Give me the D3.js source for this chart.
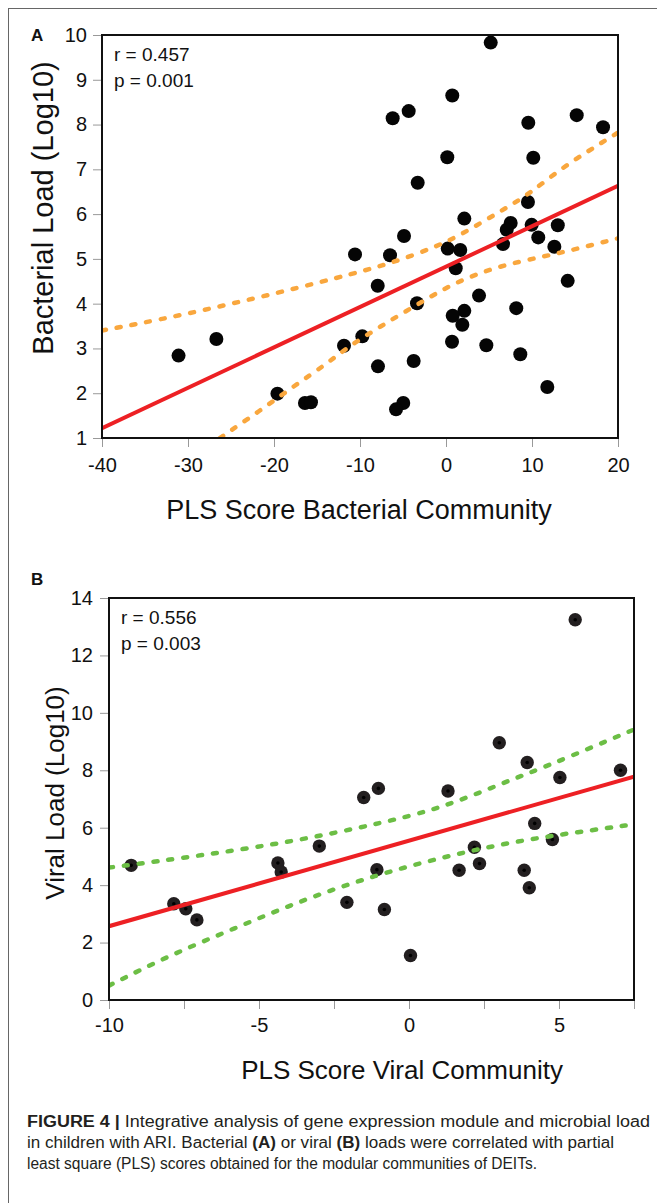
<!DOCTYPE html>
<html>
<head>
<meta charset="utf-8">
<script src="https://cdn.jsdelivr.net/npm/d3@7"></script>
<style>
  body { margin: 0; background: #fff; }
  svg text { font-family: Arial, "Liberation Sans", Helvetica, sans-serif; fill: #111; }
  .tick line { stroke: #999; stroke-width: 1px; }
  .tick text { font-size: 20px; fill: #111; }
</style>
</head>
<body>
<div id="fig"></div>
<script>
// ---- panel A : bacterial ----
var bactX = [5.2, 0.73, -6.2, -4.34, 9.57, 15.2, 18.26, 0.15, 10.15, -3.29, 9.53, 2.13, 7.52, 7.06, 9.96,
             13.0, -4.88, 10.73, 6.63, 0.2, 1.66, 12.6, -10.58, -6.51, 1.13, 14.15, -7.94, 3.84, -3.37, 8.17,
             2.13, 0.78, 1.9, -9.73, -11.86, 0.7, 4.69, 8.64, -7.91, -3.76, 11.78, -16.4, -15.7, -4.97, -5.81,
             -19.6, -31.1, -26.7];
var bactY = [9.83, 8.65, 8.14, 8.30, 8.04, 8.21, 7.94, 7.27, 7.26, 6.70, 6.27, 5.90, 5.80, 5.65, 5.76,
             5.75, 5.51, 5.48, 5.33, 5.23, 5.20, 5.27, 5.10, 5.08, 4.79, 4.51, 4.40, 4.18, 4.01, 3.90,
             3.84, 3.73, 3.53, 3.27, 3.06, 3.15, 3.07, 2.87, 2.60, 2.72, 2.14, 1.78, 1.80, 1.78, 1.64,
             1.99, 2.84, 3.21];
var bactFitX = [-40, 20];
var bactFitY = [1.22, 6.63];
var bactUpX = [-40, -30.9, -19.3, -10.2, -6.5, -1.08, 2.4, 6.28, 9.57, 13.6, 20];
var bactUpY = [3.40, 3.73, 4.25, 4.70, 4.90, 5.27, 5.61, 6.06, 6.43, 7.06, 7.82];
var bactLoX = [-26.3, -22.0, -17.75, -14.07, -11.55, -7.67, -3.41, 0.85, 5.9, 11.3, 15.6, 20];
var bactLoY = [1, 1.56, 2.15, 2.63, 3.01, 3.49, 3.97, 4.46, 4.83, 5.05, 5.24, 5.46];
var bactXTicks = [-40, -30, -20, -10, 0, 10, 20];
var bactYTicks = [1, 2, 3, 4, 5, 6, 7, 8, 9, 10];

// ---- panel B : viral ----
var viralX = [5.54, 3.01, 3.94, 5.03, 7.05, 1.30, -1.51, -1.02, 4.19, -2.99, 2.18, 4.78, -9.26, -4.37,
              -4.26, -1.07, 1.67, 2.35, 3.84, 4.01, -7.84, -7.44, -7.07, -2.07, -0.82, 0.05];
var viralY = [13.24, 8.96, 8.27, 7.75, 8.0, 7.28, 7.05, 7.37, 6.15, 5.36, 5.32, 5.59, 4.69, 4.77,
              4.46, 4.54, 4.52, 4.75, 4.52, 3.91, 3.35, 3.18, 2.79, 3.40, 3.15, 1.55];
var viralFitX = [-10, 7.5];
var viralFitY = [2.57, 7.78];
var viralUpX = [-10, -6.86, -3.43, 0, 1.14, 2.29, 3.43, 4.57, 7.5];
var viralUpY = [4.61, 5.04, 5.59, 6.38, 6.75, 7.19, 7.68, 8.13, 9.42];
var viralLoX = [-10, -8, -5.71, -3.43, -1.14, 1.14, 3.43, 5.71, 7.5];
var viralLoY = [0.5, 1.55, 2.54, 3.53, 4.34, 4.98, 5.51, 5.86, 6.12];
var viralXTicks = [-10, -7.5, -5, -2.5, 0, 2.5, 5, 7.5];
var viralYTicks = [0, 2, 4, 6, 8, 10, 12, 14];

var width = 657, height = 1203;
var svg = d3.select("#fig").append("svg")
    .attr("width", width)
    .attr("height", height);

// figure frame (top + left rule)
svg.append("line").attr("x1", 8).attr("x2", width).attr("y1", 8.5).attr("y2", 8.5)
    .style("stroke", "#666").style("stroke-width", 1);
svg.append("line").attr("x1", 8.5).attr("x2", 8.5).attr("y1", 8).attr("y2", height)
    .style("stroke", "#666").style("stroke-width", 1);

function drawPanel(p) {
    var x = d3.scaleLinear().domain(p.xDomain).range([p.left, p.right]);
    var y = d3.scaleLinear().domain(p.yDomain).range([p.bottom, p.top]);
    var g = svg.append("g");

    var clipId = "clip" + p.label;
    g.append("clipPath").attr("id", clipId)
        .append("rect")
        .attr("x", p.left).attr("y", p.top)
        .attr("width", p.right - p.left).attr("height", p.bottom - p.top);

    // axes
    var xAxis = d3.axisBottom(x)
        .tickValues(p.xTicks)
        .tickSize(p.tickSize)
        .tickPadding(p.xPad)
        .tickFormat(function(d) { return d % 5 === 0 ? String(d) : ""; });
    var yAxis = d3.axisLeft(y)
        .tickValues(p.yTicks)
        .tickSize(p.tickSize)
        .tickPadding(p.yPad)
        .tickFormat(function(d) { return String(d); });

    var gx = g.append("g").attr("transform", "translate(0," + p.bottom + ")").call(xAxis);
    var gy = g.append("g").attr("transform", "translate(" + p.left + ",0)").call(yAxis);
    gx.select(".domain").remove();
    gy.select(".domain").remove();

    // points
    var pts = g.append("g").selectAll("g")
        .data(d3.range(p.xs.length))
        .enter().append("g");
    pts.append("circle")
        .attr("cx", function(i) { return x(p.xs[i]); })
        .attr("cy", function(i) { return y(p.ys[i]); })
        .attr("r", p.dotR)
        .style("fill", p.dotFill);
    if (p.centerDot) {
        pts.append("circle")
            .attr("cx", function(i) { return x(p.xs[i]); })
            .attr("cy", function(i) { return y(p.ys[i]); })
            .attr("r", 1.8)
            .style("fill", "#000");
    }

    var line = d3.line()
        .x(function(d) { return x(d[0]); })
        .y(function(d) { return y(d[1]); })
        .curve(d3.curveBasis);

    var lines = g.append("g").attr("clip-path", "url(#" + clipId + ")");
    // confidence bands
    [[p.upX, p.upY], [p.loX, p.loY]].forEach(function(b) {
        lines.append("path")
            .datum(d3.zip(b[0], b[1]))
            .attr("d", line)
            .style("fill", "none")
            .style("stroke", p.bandColor)
            .style("stroke-width", 4.5)
            .style("stroke-linecap", "round")
            .style("stroke-dasharray", "4 11");
    });
    // regression line
    lines.append("path")
        .datum(d3.zip(p.fitX, p.fitY))
        .attr("d", d3.line().x(function(d) { return x(d[0]); }).y(function(d) { return y(d[1]); }))
        .style("fill", "none")
        .style("stroke", "#ED2024")
        .style("stroke-width", 4);

    // plot box
    g.append("rect")
        .attr("x", p.left).attr("y", p.top)
        .attr("width", p.right - p.left).attr("height", p.bottom - p.top)
        .style("fill", "none")
        .style("stroke", "#111")
        .style("stroke-width", 2);

    // stats
    g.append("text").attr("x", p.left + 12).attr("y", p.top + 26)
        .text(p.rText).style("font-size", "19px");
    g.append("text").attr("x", p.left + 12).attr("y", p.top + 52)
        .text(p.pText).style("font-size", "19px");

    // panel letter
    g.append("text").attr("x", 31).attr("y", p.letterY)
        .text(p.label).style("font-size", "17px").style("font-weight", "bold");

    // axis titles
    g.append("text")
        .attr("x", p.xTitleX).attr("y", p.xTitleY)
        .attr("text-anchor", "middle")
        .style("font-size", p.titleSize + "px")
        .text(p.xTitle);
    g.append("text")
        .attr("transform", "translate(" + p.yTitleX + "," + p.yTitleY + ")rotate(-90)")
        .attr("text-anchor", "middle")
        .style("font-size", p.yTitleSize + "px")
        .text(p.yTitle);
}

drawPanel({
    label: "A", letterY: 41,
    left: 102, right: 618, top: 35, bottom: 438,
    xDomain: [-40, 20], yDomain: [1, 10],
    xTicks: bactXTicks, yTicks: bactYTicks,
    tickSize: 9, xPad: 11, yPad: 6,
    xs: bactX, ys: bactY, dotR: 7, dotFill: "#050505", centerDot: false,
    fitX: bactFitX, fitY: bactFitY,
    upX: bactUpX, upY: bactUpY, loX: bactLoX, loY: bactLoY,
    bandColor: "#F9A73E",
    rText: "r = 0.457", pText: "p = 0.001",
    xTitle: "PLS Score Bacterial Community", xTitleX: 359, xTitleY: 519, titleSize: 27,
    yTitle: "Bacterial Load (Log10)", yTitleX: 53, yTitleY: 208, yTitleSize: 29
});

drawPanel({
    label: "B", letterY: 585,
    left: 109, right: 634, top: 598, bottom: 1000,
    xDomain: [-10, 7.5], yDomain: [0, 14],
    xTicks: viralXTicks, yTicks: viralYTicks,
    tickSize: 9, xPad: 9, yPad: 7,
    xs: viralX, ys: viralY, dotR: 6.7, dotFill: "#231f20", centerDot: true,
    fitX: viralFitX, fitY: viralFitY,
    upX: viralUpX, upY: viralUpY, loX: viralLoX, loY: viralLoY,
    bandColor: "#6CBE45",
    rText: "r = 0.556", pText: "p = 0.003",
    xTitle: "PLS Score Viral Community", xTitleX: 402, xTitleY: 1079, titleSize: 26,
    yTitle: "Viral Load (Log10)", yTitleX: 64, yTitleY: 793, yTitleSize: 26
});

// caption
var capLines = [
    {bold: "FIGURE 4 | ", rest: "Integrative analysis of gene expression module and microbial load", y: 1127, w: 623},
    {bold: "", rest: "in children with ARI. Bacterial ", b1: "(A)", m: " or viral ", b2: "(B)",
     tail: " loads were correlated with partial", y: 1148, w: 587},
    {bold: "", rest: "least square (PLS) scores obtained for the modular communities of DEITs.", y: 1169, w: 510}
];
capLines.forEach(function(c) {
    var t = svg.append("text")
        .attr("x", 27).attr("y", c.y)
        .attr("textLength", c.w)
        .attr("lengthAdjust", "spacingAndGlyphs")
        .style("font-size", "16px")
        .style("fill", "#231f20");
    if (c.bold) t.append("tspan").style("font-weight", "bold").text(c.bold);
    t.append("tspan").text(c.rest);
    if (c.b1) {
        t.append("tspan").style("font-weight", "bold").text(c.b1);
        t.append("tspan").text(c.m);
        t.append("tspan").style("font-weight", "bold").text(c.b2);
        t.append("tspan").text(c.tail);
    }
});
</script>
</body>
</html>
